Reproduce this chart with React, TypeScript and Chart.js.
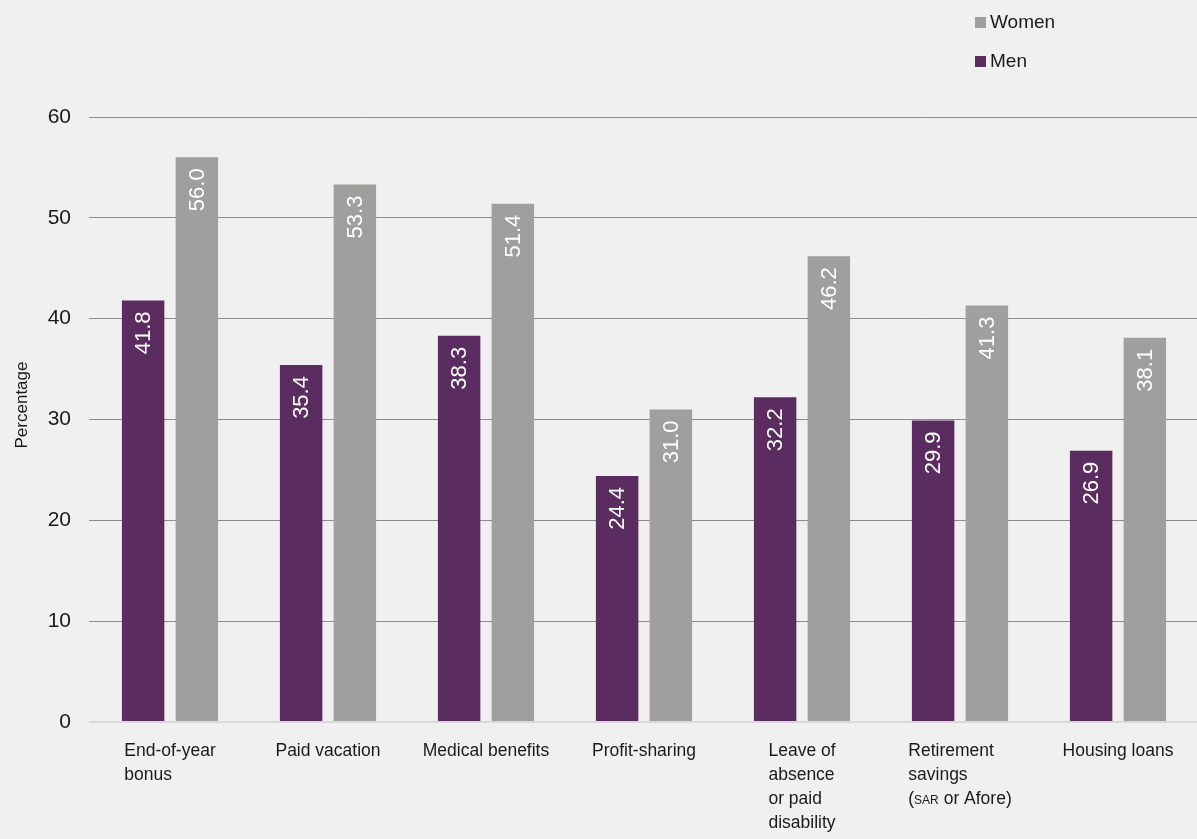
import React, { useEffect, useRef } from "react";
import { Chart, registerables } from "chart.js";

Chart.register(...registerables);

const categories: string[][] = [
  ["End-of-year", "bonus"],
  ["Paid vacation"],
  ["Medical benefits"],
  ["Profit-sharing"],
  ["Leave of", "absence", "or paid", "disability"],
  ["Retirement", "savings", "(SAR or Afore)"],
  ["Housing loans"],
];
const menValues = [41.8, 35.4, 38.3, 24.4, 32.2, 29.9, 26.9];
const womenValues = [56.0, 53.3, 51.4, 31.0, 46.2, 41.3, 38.1];
const yTicks = [0, 10, 20, 30, 40, 50, 60];

const MEN_COLOR = "#5b2c5f";
const WOMEN_COLOR = "#a09f9e";
const BG = "#f0f0f0";
const FONT = "'Liberation Sans', Arial, sans-serif";

const bgPlugin = {
  id: "bg",
  beforeDraw(chart: any) {
    const { ctx, width, height } = chart;
    ctx.save();
    ctx.fillStyle = BG;
    ctx.fillRect(0, 0, width, height);
    ctx.restore();
  },
};

const barLabelPlugin = {
  id: "barLabels",
  afterDatasetsDraw(chart: any) {
    const { ctx } = chart;
    ctx.save();
    ctx.fillStyle = "#ffffff";
    ctx.font = `22px ${FONT}`;
    chart.data.datasets.forEach((ds: any, di: number) => {
      const meta = chart.getDatasetMeta(di);
      meta.data.forEach((bar: any, i: number) => {
        const v = ds.data[i];
        ctx.save();
        ctx.translate(bar.x, bar.y + 11);
        ctx.rotate(-Math.PI / 2);
        ctx.textAlign = "right";
        ctx.textBaseline = "middle";
        ctx.fillText(v.toFixed(1), 0, 1);
        ctx.restore();
      });
    });
    ctx.restore();
  },
};

const xLabelPlugin = {
  id: "xLabels",
  afterDraw(chart: any) {
    const { ctx, chartArea } = chart;
    const xs = chart.scales.x;
    ctx.save();
    ctx.fillStyle = "#1a1a1a";
    ctx.textBaseline = "alphabetic";
    ctx.textAlign = "left";
    const big = `17.5px ${FONT}`;
    const small = `12px ${FONT}`;
    const measureLine = (line: string) => {
      if (line.includes("SAR")) {
        const parts = line.split("SAR");
        ctx.font = big;
        let w = ctx.measureText(parts[0]).width + ctx.measureText(parts[1]).width;
        ctx.font = small;
        w += ctx.measureText("SAR").width;
        return w;
      }
      ctx.font = big;
      return ctx.measureText(line).width;
    };
    categories.forEach((lines, i) => {
      const cx = xs.getPixelForTick(i);
      const maxW = Math.max(...lines.map(measureLine));
      let left = cx - maxW / 2;
      if (left + maxW > chart.width - 5) left = chart.width - 5 - maxW;
      lines.forEach((line, li) => {
        const y = chartArea.bottom + 34 + li * 24;
        if (line.includes("SAR")) {
          const parts = line.split("SAR");
          let x = left;
          ctx.font = big;
          ctx.fillText(parts[0], x, y);
          x += ctx.measureText(parts[0]).width;
          ctx.font = small;
          ctx.fillText("SAR", x, y);
          x += ctx.measureText("SAR").width;
          ctx.font = big;
          ctx.fillText(parts[1], x, y);
        } else {
          ctx.font = big;
          ctx.fillText(line, left, y);
        }
      });
    });
    // y title
    ctx.save();
    ctx.font = `17px ${FONT}`;
    ctx.textAlign = "center";
    ctx.textBaseline = "middle";
    ctx.translate(22, 405);
    ctx.rotate(-Math.PI / 2);
    ctx.fillText("Percentage", 0, 0);
    ctx.restore();
    ctx.restore();
  },
};

const legendPlugin = {
  id: "customLegend",
  afterDraw(chart: any) {
    const { ctx } = chart;
    const items = [...chart.data.datasets].reverse();
    ctx.save();
    ctx.font = `19px ${FONT}`;
    ctx.textBaseline = "middle";
    ctx.textAlign = "left";
    items.forEach((ds: any, i: number) => {
      const cy = 23 + i * 39;
      ctx.fillStyle = ds.backgroundColor;
      ctx.fillRect(975, cy - 6, 11, 11);
      ctx.fillStyle = "#1a1a1a";
      ctx.fillText(ds.label, 990, cy);
    });
    ctx.restore();
  },
};

export default function App() {
  const ref = useRef<HTMLCanvasElement>(null);
  useEffect(() => {
    document.body.style.margin = "0";
    document.body.style.background = BG;
    const chart = new Chart(ref.current as HTMLCanvasElement, {
      type: "bar",
      data: {
        labels: categories.map((c) => c.join(" ")),
        datasets: [
          {
            label: "Men",
            data: menValues,
            backgroundColor: MEN_COLOR,
            categoryPercentage: 0.68,
            barPercentage: 0.79,
          },
          {
            label: "Women",
            data: womenValues,
            backgroundColor: WOMEN_COLOR,
            categoryPercentage: 0.68,
            barPercentage: 0.79,
          },
        ],
      },
      options: {
        animation: false,
        responsive: false,
        maintainAspectRatio: false,
        layout: { padding: { top: 117, right: -6, left: 0, bottom: 0 } },
        plugins: {
          legend: { display: false },
          tooltip: { enabled: false },
        },
        scales: {
          x: {
            grid: { display: false },
            border: { display: false },
            ticks: { display: false },
            afterFit: (scale: any) => {
              scale.height = 117;
            },
          },
          y: {
            min: 0,
            max: 60,
            afterBuildTicks: (scale: any) => {
              scale.ticks = yTicks.map((v) => ({ value: v }));
            },
            grid: {
              color: (c: any) => (c.tick && c.tick.value === 0 ? "#d9d9d9" : "#8c8c8c"),
              lineWidth: (c: any) => (c.tick && c.tick.value === 0 ? 2 : 1),
              drawTicks: true,
              tickLength: 2,
            },
            border: { display: false },
            ticks: {
              padding: 18,
              color: "#1a1a1a",
              font: { family: FONT, size: 21 },
            },
            afterFit: (scale: any) => {
              scale.width = 91;
            },
          },
        },
      },
      plugins: [bgPlugin, barLabelPlugin, xLabelPlugin, legendPlugin],
    });
    return () => chart.destroy();
  }, []);
  return (
    <div style={{ width: 1197, height: 839, background: BG }}>
      <canvas ref={ref} width={1197} height={839} style={{ display: "block" }} />
    </div>
  );
}
